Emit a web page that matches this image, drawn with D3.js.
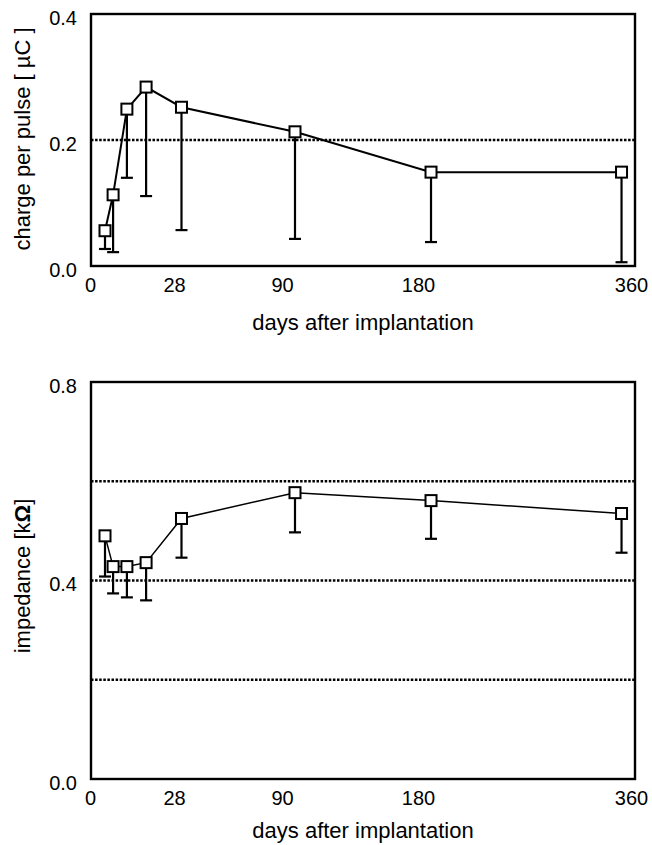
<!DOCTYPE html>
<html>
<head>
<meta charset="utf-8">
<script src="https://cdn.jsdelivr.net/npm/d3@7"></script>
<style>
  body { margin: 0; background: #fff; }
  svg text { font-family: "Liberation Sans", Arial, sans-serif; fill: #000; }
</style>
</head>
<body>
<div id="chart"></div>
<script>
// days after implantation
const days = [5, 7.7, 12.3, 18.7, 32.3, 98.6, 191, 352];
const dayTicks = [0, 28, 90, 180, 360];

// charge per pulse, mean and lower error end
const charge = [0.056, 0.113, 0.249, 0.284, 0.252, 0.213, 0.149, 0.149];
const chargeLow = [0.027, 0.022, 0.140, 0.111, 0.057, 0.043, 0.038, 0.006];
const chargeTicks = [0, 0.2, 0.4];
const chargeRefs = [0.2];

// impedance, mean and lower error end
const impedance = [0.490, 0.428, 0.428, 0.436, 0.525, 0.577, 0.561, 0.535];
const impedanceLow = [0.408, 0.374, 0.366, 0.360, 0.446, 0.497, 0.484, 0.456];
const impedanceTicks = [0, 0.4, 0.8];
const impedanceRefs = [0.2, 0.4, 0.6];

const width = 652;
const height = 845;

const svg = d3.select('#chart')
  .append('svg')
  .attr('width', width)
  .attr('height', height);

// the day axis is not linear: each labelled span gets its own stretch
const x = d3.scaleLinear()
  .domain(dayTicks)
  .range([90, 174, 282, 418, 631]);

function drawPanel(opts) {
  const y = d3.scaleLinear().domain([0, opts.max]).range([opts.bottom, opts.top]);
  const g = svg.append('g');
  const left = 91, right = 635;

  // dotted reference lines
  g.append('g')
    .selectAll('line')
    .data(opts.refs)
    .join('line')
    .attr('x1', left)
    .attr('x2', right)
    .attr('y1', d => y(d))
    .attr('y2', d => y(d))
    .attr('stroke', '#000')
    .attr('stroke-width', 2.5)
    .attr('stroke-dasharray', '2.5,1.6');

  // frame
  g.append('rect')
    .attr('x', left)
    .attr('y', opts.top)
    .attr('width', right - left)
    .attr('height', opts.bottom - opts.top)
    .attr('fill', 'none')
    .attr('stroke', '#000')
    .attr('stroke-width', 2.4);

  // y axis labels
  const yAxis = g.append('g')
    .attr('transform', `translate(${left},0)`)
    .call(d3.axisLeft(y).tickValues(opts.ticks).tickFormat(d3.format('.1f')).tickSize(0).tickPadding(14));
  yAxis.select('.domain').remove();
  yAxis.selectAll('text')
    .attr('font-size', 20)
    .attr('font-family', '"Liberation Sans", Arial, sans-serif')
    .attr('dy', '0.5em');

  // x axis labels
  const xAxis = g.append('g')
    .attr('transform', `translate(0,${opts.bottom})`)
    .call(d3.axisBottom(x).tickValues(dayTicks).tickFormat(d3.format('d')).tickSize(0).tickPadding(12));
  xAxis.select('.domain').remove();
  xAxis.selectAll('text')
    .attr('font-size', 20)
    .attr('font-family', '"Liberation Sans", Arial, sans-serif');

  // error bars (lower side only)
  const pts = days.map((d, i) => ({ day: d, v: opts.values[i], low: opts.low[i] }));
  const err = g.append('g').attr('stroke', '#000').attr('stroke-width', 2.2);
  err.selectAll('line.stem')
    .data(pts)
    .join('line')
    .attr('class', 'stem')
    .attr('x1', d => x(d.day))
    .attr('x2', d => x(d.day))
    .attr('y1', d => y(d.v))
    .attr('y2', d => y(d.low));
  err.selectAll('line.cap')
    .data(pts)
    .join('line')
    .attr('class', 'cap')
    .attr('x1', d => x(d.day) - 6)
    .attr('x2', d => x(d.day) + 6)
    .attr('y1', d => y(d.low))
    .attr('y2', d => y(d.low));

  // mean line
  g.append('path')
    .datum(pts)
    .attr('fill', 'none')
    .attr('stroke', '#000')
    .attr('stroke-width', opts.lineWidth)
    .attr('d', d3.line().x(d => x(d.day)).y(d => y(d.v)));

  // square markers
  g.append('g')
    .selectAll('rect')
    .data(pts)
    .join('rect')
    .attr('x', d => x(d.day) - 5.5)
    .attr('y', d => y(d.v) - 5.5)
    .attr('width', 11)
    .attr('height', 11)
    .attr('fill', '#fff')
    .attr('stroke', '#000')
    .attr('stroke-width', 2);

  // axis titles
  g.append('text')
    .attr('x', 363)
    .attr('y', opts.xTitleY)
    .attr('text-anchor', 'middle')
    .attr('font-size', 22)
    .text('days after implantation');

  const yt = g.append('text')
    .attr('transform', `translate(30,${opts.yTitleY}) rotate(-90)`)
    .attr('text-anchor', 'middle')
    .attr('font-size', 22);
  opts.yTitle(yt);
}

drawPanel({
  top: 14, bottom: 266, max: 0.4,
  values: charge, low: chargeLow,
  ticks: chargeTicks, refs: chargeRefs,
  lineWidth: 2,
  xTitleY: 330, yTitleY: 139,
  yTitle: t => t.text('charge per pulse [ µC ]')
});

drawPanel({
  top: 382, bottom: 779, max: 0.8,
  values: impedance, low: impedanceLow,
  ticks: impedanceTicks, refs: impedanceRefs,
  lineWidth: 1.5,
  xTitleY: 838, yTitleY: 576,
  yTitle: t => {
    t.append('tspan').text('impedance [k');
    t.append('tspan').attr('font-weight', 'bold').text('Ω');
    t.append('tspan').text(']');
  }
});
</script>
</body>
</html>
